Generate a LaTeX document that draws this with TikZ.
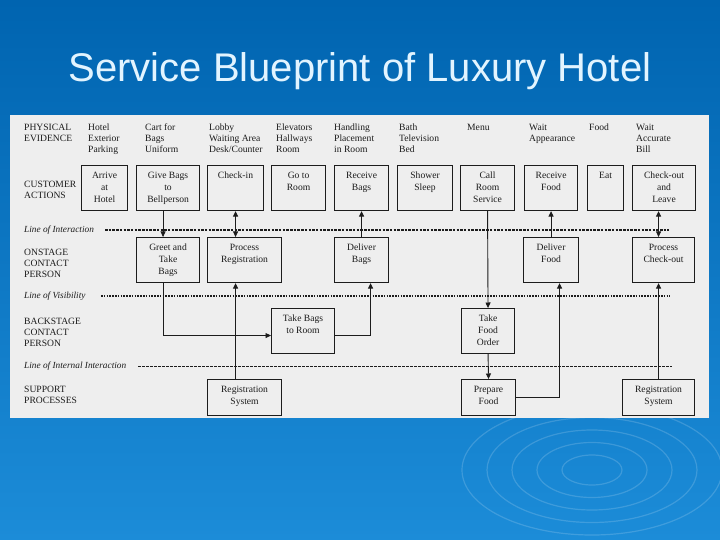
\documentclass[tikz,border=0pt]{standalone}
\usepackage{fontspec}
\setmainfont{Liberation Serif}
\newfontfamily\titlefont{Liberation Sans}
\usepackage{tikz}
\usetikzlibrary{positioning, arrows.meta}
\definecolor{bgtop}{RGB}{0, 100, 176}
\definecolor{bgbot}{RGB}{28, 140, 216}
\definecolor{titlecol}{RGB}{226, 244, 255}
\definecolor{panel}{RGB}{238, 238, 238}
\definecolor{ink}{RGB}{28, 28, 28}
\newcommand{\cell}[3]{\parbox[c][#2][t]{#1}{\centering\rule{0pt}{13pt}#3}}
\tikzset{
    blk/.style={draw=ink, line width=1.1pt, fill=panel, inner sep=0pt, anchor=north west,
        text=ink, font=\fontsize{9.6}{11.8}\selectfont},
    evtext/.style={anchor=north west, inner sep=0pt, align=left, text=ink,
        font=\fontsize{9.6}{11}\selectfont},
    rowlabel/.style={evtext, font=\fontsize{9.6}{11.3}\selectfont},
    linelabel/.style={anchor=west, inner sep=0pt, text=ink, font=\fontsize{9.3}{11}\selectfont\itshape},
    arr/.style={draw=ink, line width=0.9pt, -{Triangle[length=5.5pt, width=5pt]}},
    arrboth/.style={arr, {Triangle[length=5.5pt, width=5pt]}-{Triangle[length=5.5pt, width=5pt]}},
    interline/.style={draw=ink, line width=1.2pt, dash pattern=on 2.5pt off 1.2pt},
    visline/.style={draw=ink, line width=2pt, dash pattern=on 1.6pt off 1.2pt},
    internline/.style={draw=ink, line width=0.6pt, dash pattern=on 2.5pt off 1.5pt},
    ripple/.style={draw=white, opacity=0.16, line width=1.2pt}
}

\begin{document}
\begin{tikzpicture}[x=1pt, y=-1pt]
    % background and ripples
    \fill[top color=bgtop, bottom color=bgbot] (0,0) rectangle (720,540);
    \useasboundingbox (0,0) rectangle (720,540);
    \foreach \r in {30, 55, 80, 105, 130} {
        \draw[ripple] (592,470) ellipse ({\r} and {0.5*\r});
    }
    \node[anchor=base, text=titlecol, font=\titlefont\fontsize{40}{40}\selectfont] (title) at (360,82)
        {Service Blueprint of Luxury Hotel};
    \fill[panel] (10,115) rectangle (709,418);

    % physical evidence
    \node[rowlabel] (lphys) at (24,123.5) {PHYSICAL\\EVIDENCE};
    \node[evtext] (ev1) at (88,123.5) {Hotel\\ Exterior\\Parking};
    \node[evtext] (ev2) at (145,123.5) {Cart for\\ Bags\\Uniform};
    \node[evtext] (ev3) at (209,123.5) {Lobby\\Waiting Area\\Desk/Counter};
    \node[evtext] (ev4) at (276,123.5) {Elevators\\Hallways\\Room};
    \node[evtext] (ev5) at (334,123.5) {Handling\\Placement\\ in Room};
    \node[evtext] (ev6) at (399,123.5) {Bath\\Television\\Bed};
    \node[evtext] (ev7) at (467,124) {Menu};
    \node[evtext] (ev8) at (529,123.5) {Wait\\Appearance};
    \node[evtext] (ev9) at (589,124) {Food};
    \node[evtext] (ev10) at (636,123.5) {Wait\\Accurate\\ Bill};

    % customer actions
    \node[rowlabel] (lcust) at (24,180.5) {CUSTOMER\\ACTIONS};
    \node[blk] (arrive) at (81,165) {\cell{46pt}{45pt}{Arrive\\at\\Hotel}};
    \node[blk] (givebags) at (136,165) {\cell{63pt}{45pt}{Give Bags\\to\\Bellperson}};
    \node[blk] (checkin) at (207,165) {\cell{56pt}{45pt}{Check-in}};
    \node[blk] (gotoroom) at (271,165) {\cell{54pt}{45pt}{Go to\\Room}};
    \node[blk] (recbags) at (334,165) {\cell{54pt}{45pt}{Receive\\Bags}};
    \node[blk] (shower) at (397,165) {\cell{55pt}{45pt}{Shower\\Sleep}};
    \node[blk] (callrs) at (460,165) {\cell{54pt}{45pt}{Call\\Room\\Service}};
    \node[blk] (recfood) at (524,165) {\cell{53pt}{45pt}{Receive\\Food}};
    \node[blk] (eat) at (587,165) {\cell{36pt}{45pt}{Eat}};
    \node[blk] (checkout) at (632,165) {\cell{63pt}{45pt}{Check-out\\and\\Leave}};

    % line of interaction
    \node[linelabel] (linter) at (24,230) {Line of Interaction};
    \draw[interline] (105,230) -- (669,230);

    % onstage
    \node[rowlabel] (lon) at (24,248.5) {ONSTAGE\\CONTACT\\PERSON};
    \node[blk] (greet) at (136,237) {\cell{63pt}{45pt}{Greet and\\Take\\Bags}};
    \node[blk] (procreg) at (207,237) {\cell{74pt}{45pt}{Process\\Registration}};
    \node[blk] (delbags) at (334,237) {\cell{54pt}{45pt}{Deliver\\Bags}};
    \node[blk] (delfood) at (523,237) {\cell{55pt}{45pt}{Deliver\\Food}};
    \node[blk] (proccheck) at (632,237) {\cell{62pt}{45pt}{Process\\Check-out}};

    % line of visibility
    \node[linelabel] (lvis) at (24,296) {Line of Visibility};
    \draw[visline] (101,296) -- (670,296);

    % backstage
    \node[rowlabel] (lback) at (24,317.5) {BACKSTAGE\\CONTACT\\PERSON};
    \node[blk] (takebags) at (271,308) {\cell{63pt}{45pt}{Take Bags\\to Room}};
    \node[blk] (takefood) at (461,308) {\cell{53pt}{45pt}{Take\\Food\\Order}};

    % line of internal interaction
    \node[linelabel] (lint) at (24,366) {Line of Internal Interaction};
    \draw[internline] (138,366) -- (672,366);

    % support
    \node[rowlabel] (lsup) at (24,385.5) {SUPPORT\\PROCESSES};
    \node[blk] (regsys) at (207,379) {\cell{74pt}{36pt}{Registration\\System}};
    \node[blk] (prepfood) at (461,379) {\cell{54pt}{36pt}{Prepare\\Food}};
    \node[blk] (regsystwo) at (622,379) {\cell{72pt}{36pt}{Registration\\System}};

    % flows
    \draw[arr] ([xshift=-5pt]givebags.south) -- ([xshift=-5pt]greet.north);
    \draw[arrboth] (checkin.south) -- (checkin.south |- procreg.north);
    \draw[arr] (regsys.north -| checkin.south) -- (procreg.south -| checkin.south);
    \draw[arr] ([xshift=-5pt]greet.south) |- ([yshift=-4.5pt]takebags.west);
    \draw[arr] ([yshift=-4.5pt]takebags.east) -| ([xshift=9pt]delbags.south);
    \draw[arr] (delbags.north) -- (recbags.south);
    \draw[arr] (callrs.south) -- (takefood.north);
    \draw[arr] (takefood.south) -- (prepfood.north);
    \draw[arr] (prepfood.east) -| ([xshift=8.5pt]delfood.south);
    \draw[arr] (delfood.north) -- (recfood.south);
    \draw[arrboth] (checkout.south -| regsystwo.north) -- (proccheck.north -| regsystwo.north);
    \draw[arr] (regsystwo.north) -- (regsystwo.north |- proccheck.south);
\end{tikzpicture}
\end{document}
